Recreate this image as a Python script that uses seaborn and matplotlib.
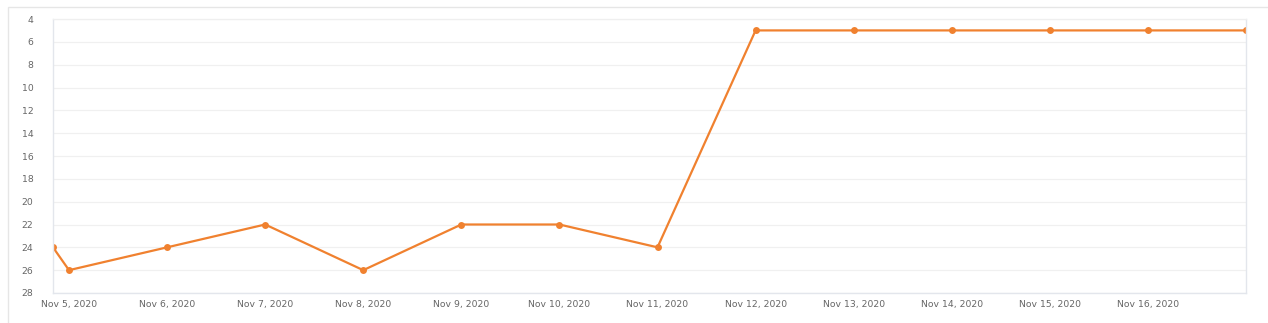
import matplotlib
matplotlib.use("Agg")
import matplotlib.pyplot as plt
import matplotlib.dates as mdates
from matplotlib.patches import Rectangle
import pandas as pd
import seaborn as sns

timestamps = ["2020-11-04 20:05", "2020-11-05 00:00", "2020-11-06 00:00", "2020-11-07 00:00",
              "2020-11-08 00:00", "2020-11-09 00:00", "2020-11-10 00:00", "2020-11-11 00:00",
              "2020-11-12 00:00", "2020-11-13 00:00", "2020-11-14 00:00", "2020-11-15 00:00",
              "2020-11-16 00:00", "2020-11-17 00:00"]
positions = [24, 26, 24, 22, 26, 22, 22, 24, 5, 5, 5, 5, 5, 5]
tick_days = ["2020-11-05", "2020-11-06", "2020-11-07", "2020-11-08", "2020-11-09",
             "2020-11-10", "2020-11-11", "2020-11-12", "2020-11-13", "2020-11-14",
             "2020-11-15", "2020-11-16"]
y_ticks = [4, 6, 8, 10, 12, 14, 16, 18, 20, 22, 24, 26, 28]

df = pd.DataFrame({"time": pd.to_datetime(timestamps, format="%Y-%m-%d %H:%M"), "pos": positions})

sns.set_style("white")
plt.rcParams['font.family'] = ['DejaVu Sans']

fig = plt.figure(figsize=(12.68, 3.23), dpi=100)
ax = fig.add_axes([53/1268, 1 - 293/323, (1246 - 53)/1268, (293 - 19)/323])

# outer container border
fig.patches.append(Rectangle((8/1268, -0.1), 1.2, 1 - 7/323 + 0.1, transform=fig.transFigure,
                             fill=False, edgecolor="#e6e6e6", linewidth=1.0, zorder=0))

color = "#f0812f"
sns.lineplot(data=df, x="time", y="pos", ax=ax, color=color, linewidth=1.6,
             marker="o", markersize=5, markeredgewidth=0, markeredgecolor=color)

ax.set_ylim(28, 4)
ax.set_yticks(y_ticks)
ax.set_xlim(df["time"].iloc[0], df["time"].iloc[-1])
ax.set_xticks(pd.to_datetime(tick_days, format="%Y-%m-%d"))
ax.xaxis.set_major_formatter(mdates.DateFormatter("%b %-d, %Y"))

ax.grid(axis="y", color="#f0f0f0", linewidth=0.9)
ax.grid(axis="x", visible=False)
ax.set_axisbelow(True)
for side in ["left", "bottom", "right"]:
    ax.spines[side].set_visible(True)
    ax.spines[side].set_color("#e3e6ec")
    ax.spines[side].set_linewidth(1.0)
ax.spines["top"].set_visible(True)
ax.spines["top"].set_color("#efefef")
ax.spines["top"].set_linewidth(0.9)

ax.tick_params(axis="y", length=0, pad=14, labelsize=6.7, labelcolor="#666666")
ax.tick_params(axis="x", length=0, pad=5, labelsize=6.7, labelcolor="#666666")
ax.set_xlabel("")
ax.set_ylabel("")

fig.savefig("out.png", dpi=100)
